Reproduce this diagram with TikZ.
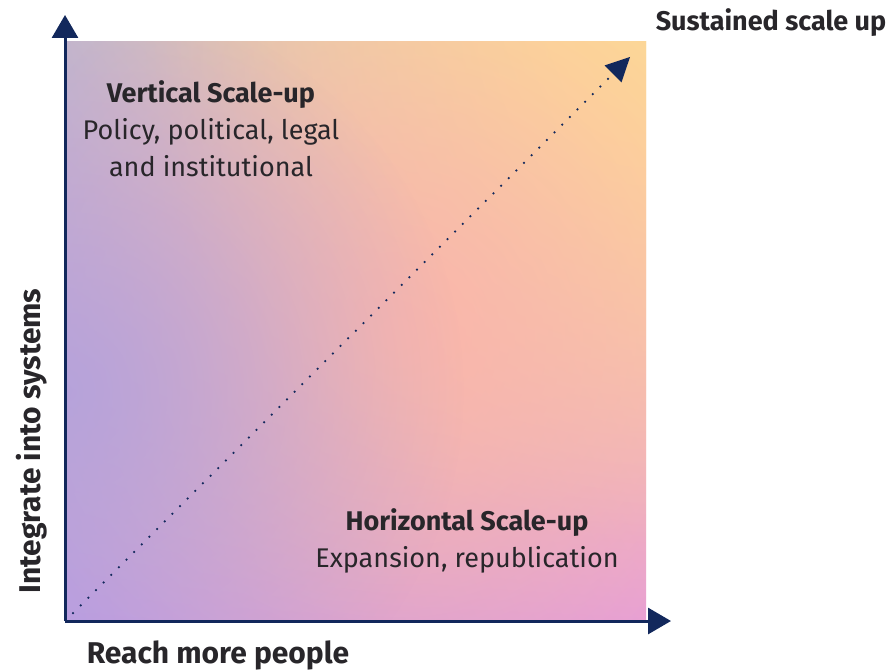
\documentclass[tikz,border=0pt]{standalone}
\usepackage{fontspec}
\setmainfont{Fira Sans}
\usepackage{tikz}
\usetikzlibrary{arrows.meta}
\usetikzlibrary{shadings}
\usetikzlibrary{fadings}
\definecolor{axisblue}{RGB}{18,40,92}
\definecolor{txtgray}{RGB}{40,38,42}
\definecolor{cTL}{RGB}{198,184,202}
\definecolor{cTR}{RGB}{253,220,150}
\definecolor{cBL}{RGB}{190,156,226}
\definecolor{cBR}{RGB}{230,158,216}
\definecolor{peach}{RGB}{252,182,170}
\definecolor{sun}{RGB}{254,218,150}
\definecolor{lilac}{RGB}{180,162,220}
\tikzfading[name=glow, inner color=transparent!0, outer color=transparent!100]
\tikzset{>=latex}
\tikzstyle{axis} = [draw=axisblue, line width=3pt, -{Triangle[length=23pt,width=26pt]}]
\tikzstyle{diag} = [draw=axisblue, line width=2.5pt, line cap=round, dash pattern=on 0pt off 10.8pt, -{Triangle[length=24pt,width=24pt,fill=axisblue,line width=0pt]}]
\tikzstyle{lbl} = [draw=none, text=txtgray, font=\fontsize{27}{37}\selectfont, align=center, inner sep=0]
\tikzstyle{axlbl} = [draw=none, text=txtgray, font=\fontsize{30}{36}\selectfont\bfseries, inner sep=0]

\begin{document}
\begin{tikzpicture}[x=1pt, y=-1pt]
\useasboundingbox (0,0) rectangle (894,671);
% background square
\begin{scope}
\clip (65,42) rectangle (646,621);
\shade [upper left=cTL, upper right=cTR, lower left=cBL, lower right=cBR] (65,42) rectangle (646,621);
\fill [sun, path fading=glow] (646,42) circle (500);
\fill [peach, path fading=glow] (395,335) circle (420);
\fill [lilac, path fading=glow, opacity=0.9] (65,390) circle (400);
\end{scope}
\coordinate (O) at (65,621);
\coordinate (ytip) at (65,15);
\coordinate (xtip) at (671,621);
\coordinate (start) at (73,613);
\coordinate (dtip) at (630,57);
\draw [axis] (O) to (ytip);
\draw [axis] (O) to (xtip);
\draw [diag] (start) to (dtip);
\node [axlbl, font=\fontsize{27}{36}\selectfont\bfseries] (S) at (771,23) {Sustained scale up};
\node [axlbl, anchor=base] (X) at (218,663) {Reach more people};
\node [axlbl, rotate=90, anchor=base] (Y) at (40,441) {Integrate into systems};
\node [lbl] (V) at (211,129) {\textbf{Vertical Scale-up}\\Policy, political, legal\\and institutional};
\node [lbl] (H) at (467,541) {\textbf{Horizontal Scale-up}\\Expansion, republication};
\end{tikzpicture}
\end{document}
